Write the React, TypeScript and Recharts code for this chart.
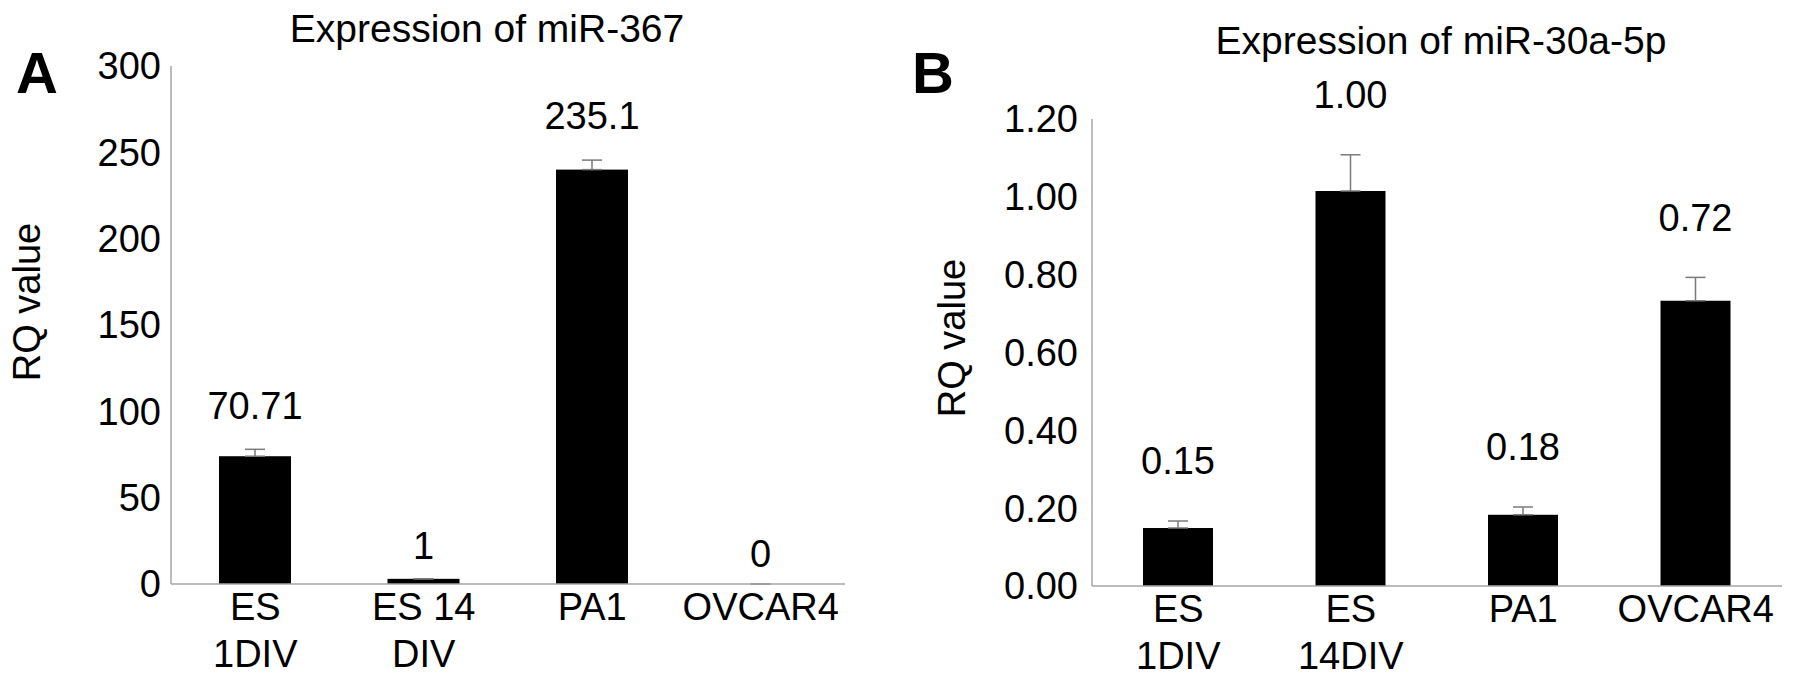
import { Bar, BarChart, ErrorBar, LabelList, XAxis, YAxis } from "recharts";

const FONT = '"Liberation Sans", Arial, sans-serif';
const AXIS = "#a6a6a6";

// panel A: miR-367
const categoriesA = ["ES\n1DIV", "ES 14\nDIV", "PA1", "OVCAR4"];
const valuesA = [74, 3, 240, 0];
const errorsA = [4, 0, 5.5, 0];
const labelsA = ["70.71", "1", "235.1", "0"];
const ticksA = [0, 50, 100, 150, 200, 250, 300];

// panel B: miR-30a-5p
const categoriesB = ["ES\n1DIV", "ES\n14DIV", "PA1", "OVCAR4"];
const valuesB = [0.149, 1.015, 0.183, 0.733];
const errorsB = [0.018, 0.093, 0.02, 0.06];
const labelsB = ["0.15", "1.00", "0.18", "0.72"];
const ticksB = [0, 0.2, 0.4, 0.6, 0.8, 1.0, 1.2];

function buildRows(cats: string[], vals: number[], errs: number[]) {
  return cats.map((name, i) => ({ name, value: vals[i], err: [0, errs[i]] }));
}

function CatTick(props: any) {
  const { x, y, payload } = props;
  const lines = String(payload.value).split("\n");
  return (
    <text x={x} y={y + 36} textAnchor="middle" fontSize={38} fontFamily={FONT} fill="#000">
      {lines.map((l, i) => (
        <tspan key={i} x={x} dy={i === 0 ? 0 : 47}>
          {l}
        </tspan>
      ))}
    </text>
  );
}

// zero bars keep a 1px slot (so the "0" label gets a place) but draw nothing
function BarShape(props: any) {
  const { x, y, width, height, payload } = props;
  if (!payload || !(payload.value > 0)) return <g />;
  return <rect x={x} y={y} width={width} height={height} fill="#000" />;
}

function valueLabel(labels: string[], errs: number[], pxPerUnit: number, gap: number) {
  return (props: any) => {
    const { x, y, width, height, index } = props;
    // tiny bars get their label closer to the bar
    const g = Math.min(gap, 28 + Math.abs(height || 0));
    const top = y - errs[index] * pxPerUnit - g;
    return (
      <text x={x + width / 2} y={top} dy="0.35em" textAnchor="middle" fontSize={38} fontFamily={FONT} fill="#000">
        {labels[index]}
      </text>
    );
  };
}

const textBase: any = { position: "absolute", fontFamily: FONT, color: "#000", whiteSpace: "nowrap", lineHeight: 1 };

function Panel(props: {
  left: number;
  width: number;
  rows: any[];
  labels: string[];
  errs: number[];
  ticks: number[];
  max: number;
  margin: { top: number; right: number; bottom: number; left: number };
  yWidth: number;
  xHeight: number;
  tickMargin: number;
  barSize: number;
  gap: number;
  fmt?: (v: number) => string;
}) {
  const plotH = 684 - props.margin.top - props.xHeight;
  return (
    <div style={{ position: "absolute", left: props.left, top: 0 }}>
      <BarChart width={props.width} height={684} data={props.rows} margin={props.margin} barSize={props.barSize}>
        <XAxis
          dataKey="name"
          interval={0}
          tickLine={false}
          tickSize={0}
          tickMargin={0}
          axisLine={{ stroke: AXIS, strokeWidth: 1.5 }}
          height={props.xHeight}
          tick={<CatTick />}
        />
        <YAxis
          domain={[0, props.max]}
          ticks={props.ticks}
          interval={0}
          width={props.yWidth}
          tickLine={false}
          tickSize={0}
          tickMargin={props.tickMargin}
          axisLine={{ stroke: AXIS, strokeWidth: 1.5 }}
          tick={{ fontSize: 38, fill: "#000", fontFamily: FONT }}
          tickFormatter={props.fmt}
        />
        <Bar dataKey="value" fill="#000" minPointSize={1} shape={<BarShape />} isAnimationActive={false}>
          <ErrorBar dataKey="err" direction="y" width={10} stroke="#7a7a7a" strokeWidth={1.5} />
          <LabelList
            dataKey="value"
            content={valueLabel(props.labels, props.errs, plotH / props.max, props.gap)}
          />
        </Bar>
      </BarChart>
    </div>
  );
}

export default function App() {
  return (
    <div style={{ position: "absolute", left: 0, top: 0, width: 1795, height: 684, background: "#fff" }}>
      <Panel
        left={0}
        width={900}
        rows={buildRows(categoriesA, valuesA, errorsA)}
        labels={labelsA}
        errs={errorsA}
        ticks={ticksA}
        max={300}
        margin={{ top: 66, right: 55, bottom: 0, left: 71 }}
        yWidth={100}
        xHeight={100}
        tickMargin={10}
        barSize={72}
        gap={44}
      />
      <Panel
        left={900}
        width={895}
        rows={buildRows(categoriesB, valuesB, errorsB)}
        labels={labelsB}
        errs={errorsB}
        ticks={ticksB}
        max={1.2}
        margin={{ top: 119, right: 13, bottom: 0, left: 72 }}
        yWidth={120}
        xHeight={98}
        tickMargin={14}
        barSize={70}
        gap={60}
        fmt={(v: number) => v.toFixed(2)}
      />
      <div style={{ ...textBase, left: 487, top: 9, fontSize: 39, transform: "translateX(-50%)" }}>
        Expression of miR-367
      </div>
      <div style={{ ...textBase, left: 1441, top: 21, fontSize: 39, transform: "translateX(-50%)" }}>
        Expression of miR-30a-5p
      </div>
      <div style={{ ...textBase, left: 16, top: 44, fontSize: 58, fontWeight: "bold" }}>A</div>
      <div style={{ ...textBase, left: 912, top: 44, fontSize: 58, fontWeight: "bold" }}>B</div>
      <div
        style={{ ...textBase, left: 27, top: 302, fontSize: 38, transform: "translate(-50%, -50%) rotate(-90deg)" }}
      >
        RQ value
      </div>
      <div
        style={{ ...textBase, left: 952, top: 338, fontSize: 38, transform: "translate(-50%, -50%) rotate(-90deg)" }}
      >
        RQ value
      </div>
    </div>
  );
}
